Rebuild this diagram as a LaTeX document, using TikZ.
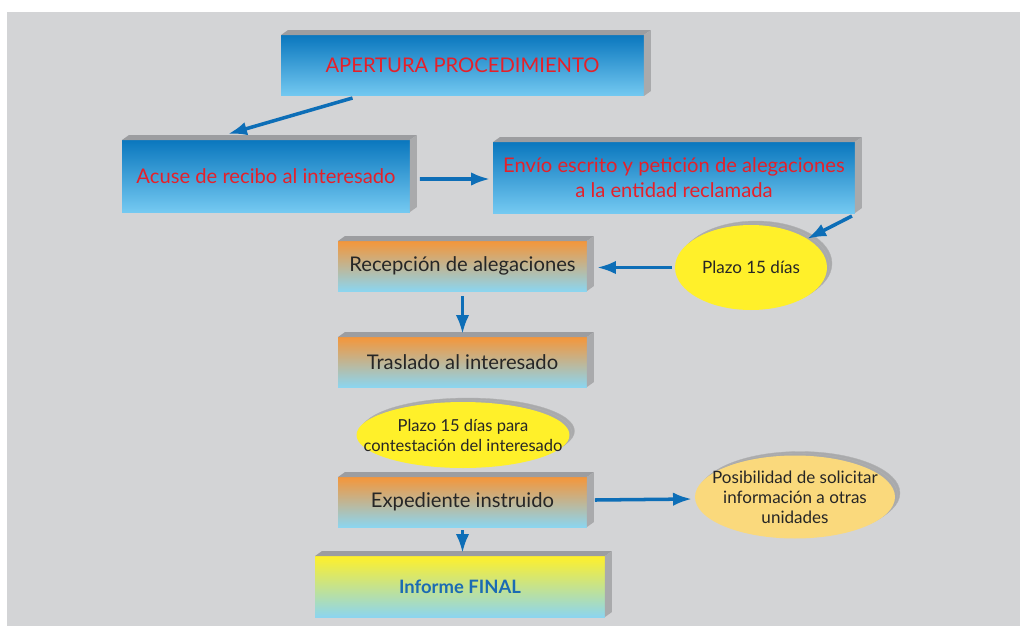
\documentclass[tikz,border=0pt]{standalone}
\usepackage{fontspec}
\setmainfont{Lato}
\usetikzlibrary{calc, shapes.geometric, shadows, arrows.meta}
\definecolor{sfondo}{HTML}{D3D4D6}
\definecolor{bluscuro}{HTML}{0A77BE}
\definecolor{bluchiaro}{HTML}{74C9F1}
\definecolor{arancio}{HTML}{F4963A}
\definecolor{celeste}{HTML}{8CD5EF}
\definecolor{giallo}{HTML}{FFF02A}
\definecolor{crema}{HTML}{FAD97C}
\definecolor{rosso}{HTML}{E5202A}
\definecolor{scuro}{HTML}{262626}
\definecolor{bluinf}{HTML}{1B6BB3}
\definecolor{freccia}{HTML}{0D6EB7}
\definecolor{latosup}{HTML}{9C9DA0}
\definecolor{latodx}{HTML}{A9AAAC}

\tikzset{
  caja/.style={rectangle, inner sep=0pt, outer sep=0pt, align=center},
  cajaazul/.style={caja, top color=bluscuro, bottom color=bluchiaro, text=rosso,
    font=\fontsize{11.5}{14.5}\selectfont},
  cajanaranja/.style={caja, top color=arancio, bottom color=celeste, text=scuro,
    font=\fontsize{11.5}{14}\selectfont},
  globo/.style={ellipse, inner sep=0pt, outer sep=0pt,
    double copy shadow={shadow xshift=0.5mm, shadow yshift=0.4mm, fill=latodx, draw=gray!60, very thin}},
  testoglobo/.style={align=center, text=scuro, font=\fontsize{9.7}{11.4}\selectfont},
  flecha/.style={-{Latex[length=3.8mm,width=2.7mm]}, line width=2pt, draw=freccia},
}
%spessore 3d delle caselle
\newcommand{\spessore}[1]{%
  \fill[latosup] (#1.north west) -- ++(7,-5) -- ([shift={(7,-5)}]#1.north east) -- (#1.north east) -- cycle;
  \fill[latodx] (#1.north east) -- ++(7,-5) -- ([shift={(7,-5)}]#1.south east) -- (#1.south east) -- cycle;}

\begin{document}
\begin{tikzpicture}[x=0.02cm, y=-0.02cm]
        \useasboundingbox (0,0) rectangle (1020,626);
        %fondo
        \fill[sfondo] (7,12) rectangle (1020,626);

        %cajas azules
        \node[cajaazul, minimum width=7.26cm, minimum height=1.22cm] (apertura) at (462.5,65.5) {APERTURA PROCEDIMIENTO};
        \spessore{apertura}
        \node[cajaazul, minimum width=5.76cm, minimum height=1.44cm] (acuse) at (266,176) {Acuse de recibo al interesado};
        \spessore{acuse}
        \node[cajaazul, minimum width=7.24cm, minimum height=1.42cm] (envio) at (674,177.5) {Envío escrito y petición de alegaciones\\a la entidad reclamada};
        \spessore{envio}

        %cajas naranjas
        \node[cajanaranja, minimum width=4.98cm, minimum height=1cm] (recepcion) at (462.5,266) {Recepción de alegaciones};
        \spessore{recepcion}
        \node[cajanaranja, minimum width=4.98cm, minimum height=1cm] (traslado) at (462.5,362) {Traslado al interesado};
        \spessore{traslado}
        \node[cajanaranja, minimum width=4.98cm, minimum height=1cm] (expediente) at (462.5,502) {Expediente instruido};
        \spessore{expediente}

        %informe final
        \node[caja, top color=giallo, bottom color=celeste, text=bluinf, font=\fontsize{10.5}{12}\selectfont\bfseries,
          minimum width=5.8cm, minimum height=1.22cm] (informe) at (460,586.5) {Informe FINAL};
        \spessore{informe}

        %globos
        \node[globo, fill=giallo, minimum width=3.04cm, minimum height=1.7cm,
          label={[testoglobo]center:Plazo 15 días}] (plazoA) at (751,267.5) {};
        \node[globo, fill=giallo, minimum width=4.26cm, minimum height=1.32cm,
          label={[testoglobo, font=\fontsize{9.4}{11.4}\selectfont]center:Plazo 15 días para\\contestación del interesado}] (plazoB) at (463,435) {};
        \node[globo, fill=crema, minimum width=4cm, minimum height=1.66cm,
          label={[testoglobo]center:Posibilidad de solicitar\\información a otras\\unidades}] (posibilidad) at (795,497) {};

        %flechas
        \draw[flecha] ([shift={(-110,2)}]apertura.south) -- ([shift={(-38,-6)}]acuse.north);
        \draw[flecha] ([shift={(10,3)}]acuse.east) -- ([shift={(-3,1.5)}]envio.west);
        \draw[flecha] ([shift={(-3,3)}]envio.south east) -- (plazoA.27);
        \draw[flecha] ([shift={(-3,0)}]plazoA.west) -- ([shift={(10,1.5)}]recepcion.east);
        \draw[flecha] ([shift={(0,5)}]recepcion.south) -- ([shift={(0,-3)}]traslado.north);
        \draw[flecha] ([shift={(8,-2)}]expediente.east) -- ([shift={(-3,2)}]posibilidad.west);
        \draw[flecha] ([shift={(0,3)}]expediente.south) -- ([shift={(2.5,-3)}]informe.north);
\end{tikzpicture}
\end{document}
